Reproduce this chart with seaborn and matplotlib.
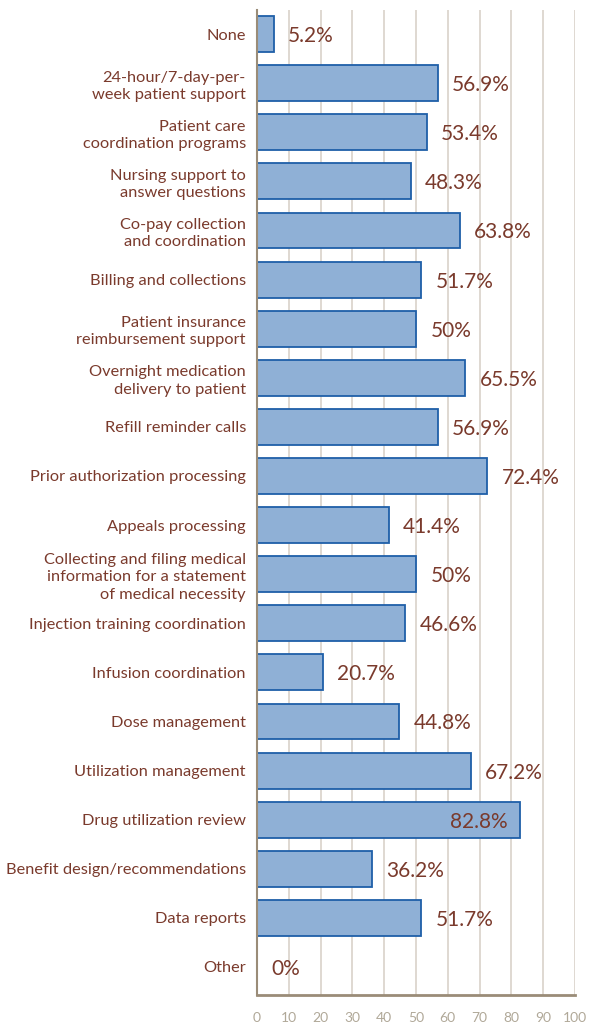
import matplotlib
matplotlib.use("Agg")
import matplotlib.pyplot as plt
import seaborn as sns
import pandas as pd

sns.set_style("white")
plt.rcParams["font.family"] = ["Lato", "DejaVu Sans"]

# Data
services = [
    "None",
    "24-hour/7-day-per-\nweek patient support",
    "Patient care\ncoordination programs",
    "Nursing support to\nanswer questions",
    "Co-pay collection\nand coordination",
    "Billing and collections",
    "Patient insurance\nreimbursement support",
    "Overnight medication\ndelivery to patient",
    "Refill reminder calls",
    "Prior authorization processing",
    "Appeals processing",
    "Collecting and filing medical\ninformation for a statement\nof medical necessity",
    "Injection training coordination",
    "Infusion coordination",
    "Dose management",
    "Utilization management",
    "Drug utilization review",
    "Benefit design/recommendations",
    "Data reports",
    "Other",
]
pct = [5.2, 56.9, 53.4, 48.3, 63.8, 51.7, 50, 65.5, 56.9, 72.4,
       41.4, 50, 46.6, 20.7, 44.8, 67.2, 82.8, 36.2, 51.7, 0]
labels = ["5.2%", "56.9%", "53.4%", "48.3%", "63.8%", "51.7%", "50%", "65.5%",
          "56.9%", "72.4%", "41.4%", "50%", "46.6%", "20.7%", "44.8%", "67.2%",
          "82.8%", "36.2%", "51.7%", "0%"]
ticks = [0, 10, 20, 30, 40, 50, 60, 70, 80, 90, 100]

df = pd.DataFrame({"service": services, "pct": pct})

text_col = "#7a3a2c"
axis_col = "#9a8c78"

fig = plt.figure(figsize=(5.9, 10.25), dpi=100)
ax = fig.add_axes([0.4356, 0.0293, 0.539, 0.9614])

sns.barplot(data=df, x="pct", y="service", ax=ax, color="#8fb0d6",
            edgecolor="#1f5fa8", linewidth=1.3, width=0.73, saturation=1)

ax.set_xlim(0, 100)
ax.set_ylim(19.57, -0.5)
ax.set_xticks(ticks)
ax.set_xticklabels([str(t) for t in ticks], color="#b0a898", fontsize=10)
ax.xaxis.grid(True, color="#d9d2ca", linewidth=1.2)
ax.set_axisbelow(True)
ax.tick_params(axis="x", direction="in", length=10, width=2, color=axis_col, pad=12)
ax.tick_params(axis="y", length=0, pad=8)
for t in ax.get_yticklabels():
    t.set_color(text_col)
    t.set_fontsize(11.8)
    t.set_linespacing(1.3)
    t.set_multialignment("right")
ax.set_xlabel("")
ax.set_ylabel("")

for s in ["top", "right"]:
    ax.spines[s].set_visible(False)
ax.spines["bottom"].set_color(axis_col)
ax.spines["bottom"].set_linewidth(2)
ax.spines["left"].set_color(axis_col)
ax.spines["left"].set_linewidth(1.5)

for i, (v, lab) in enumerate(zip(pct, labels)):
    if v > 80:
        ax.text(v - 4, i + 0.04, lab, ha="right", va="center", color=text_col,
                fontsize=15)
    else:
        ax.text(v + 4.5, i + 0.04, lab, ha="left", va="center", color=text_col,
                fontsize=15)

fig.savefig("out.png", dpi=100)
